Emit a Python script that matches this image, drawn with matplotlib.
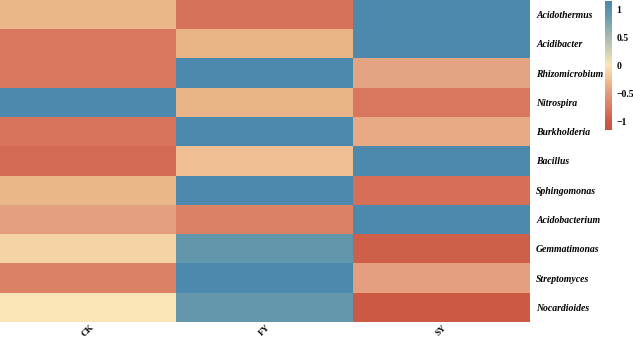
import numpy as np
import matplotlib
matplotlib.use("Agg")
import matplotlib.pyplot as plt
from matplotlib.colors import LinearSegmentedColormap

# row-scaled abundance (z-scores)
genera = ["Acidothermus", "Acidibacter", "Rhizomicrobium", "Nitrospira", "Burkholderia",
          "Bacillus", "Sphingomonas", "Acidobacterium", "Gemmatimonas", "Streptomyces",
          "Nocardioides"]
groups = ["CK", "FY", "SY"]
ck = [-0.30, -0.78, -0.78, 1.12, -0.80, -0.88, -0.30, -0.45, -0.12, -0.70, 0.00]
fy = [-0.82, -0.33, 1.12, -0.33, 1.12, -0.25, 1.12, -0.70, 0.92, 1.12, 0.90]
sy = [1.12, 1.12, -0.42, -0.78, -0.38, 1.12, -0.84, 1.12, -0.95, -0.45, -1.00]

vals = np.array([ck, fy, sy]).T

plt.rcParams["font.family"] = ["Liberation Serif", "DejaVu Serif"]

lim = 1.15
stops = [(-1.15, "#c9523e"), (-1.0, "#cc5a45"), (-0.82, "#d7735a"), (-0.45, "#e4a07f"),
         (-0.3, "#ebb88b"), (0.0, "#fbe6b8"), (0.9, "#6598ab"), (1.15, "#4a88ae")]
cmap = LinearSegmentedColormap.from_list("rb", [((v + lim) / (2 * lim), c) for v, c in stops])

fig = plt.figure(figsize=(6.33, 3.4), dpi=100)
ax = fig.add_axes([0, 0.053, 0.836, 0.947])
im = ax.imshow(vals, cmap=cmap, vmin=-lim, vmax=lim, aspect="auto", interpolation="nearest")

ax.set_xticks(range(len(groups)))
ax.set_xticklabels(groups, rotation=45, fontsize=6.5, fontweight="bold", ha="center", va="top")
ax.yaxis.tick_right()
ax.set_yticks(range(len(genera)))
ax.set_yticklabels(genera, fontsize=7, fontweight="bold", fontstyle="italic")
ax.tick_params(axis="y", length=0, pad=5)
ax.tick_params(axis="x", length=0, pad=1)
for s in ax.spines.values():
    s.set_visible(False)

cax = fig.add_axes([0.956, 0.618, 0.011, 0.379])
cb = fig.colorbar(im, cax=cax, ticks=[-1, -0.5, 0, 0.5, 1])
cb.outline.set_visible(False)
cb.ax.set_yticklabels(["\u22121", "\u22120.5", "0", "0.5", "1"])
cb.ax.tick_params(length=0, labelsize=7, pad=3)
for t in cb.ax.get_yticklabels():
    t.set_fontweight("bold")

fig.savefig("out.png", dpi=100)
